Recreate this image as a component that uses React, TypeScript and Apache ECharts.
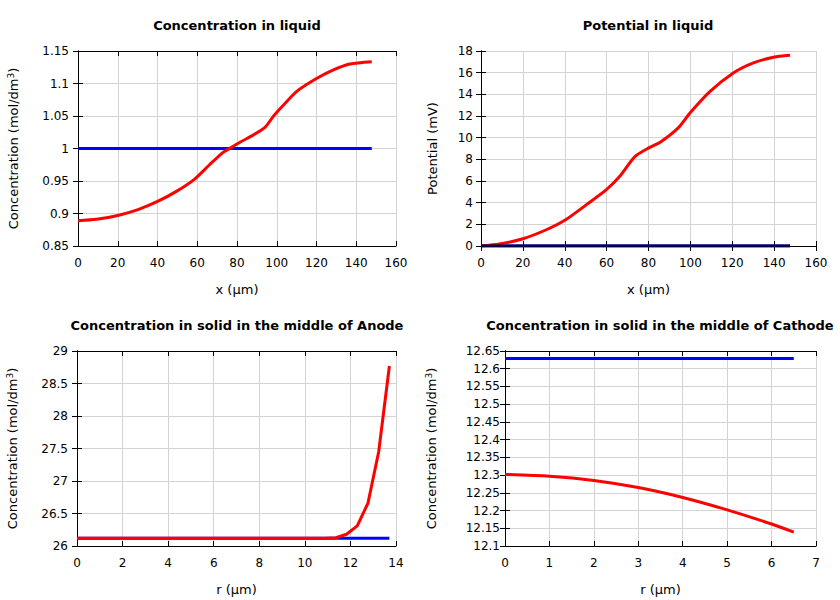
import React, { useEffect, useRef } from "react";
import * as echarts from "echarts";

// Concentration in liquid
const liqX = [0, 9.3, 20, 30.2, 40.3, 49.5, 58.7, 66.2, 73, 76.3, 81.7, 88.3, 94.2, 98.4, 103.4, 110.1, 120.2, 128.5, 136.9, 147.8];
const liqConc = [0.889, 0.891, 0.897, 0.906, 0.919, 0.934, 0.953, 0.975, 0.994, 1.0, 1.010, 1.021, 1.033, 1.050, 1.067, 1.088, 1.108, 1.121, 1.130, 1.1335];
const liqInitX = [0, 147.8];
const liqConcInit = [1, 1];

// Potential in liquid
const potX = [0, 8.8, 20, 31.2, 40, 50.4, 59.9, 66.3, 73.5, 80.6, 85.4, 94.2, 99.8, 109.4, 120.5, 130.1, 139.7, 147.6];
const potVal = [0, 0.18, 0.67, 1.5, 2.37, 3.82, 5.2, 6.43, 8.25, 9.1, 9.55, 10.9, 12.27, 14.27, 15.97, 16.9, 17.42, 17.6];
const potInitX = [0, 147.6];
const potInit = [0, 0];

// Anode solid
const anR = [0, 2, 4, 6, 8, 10.42, 10.89, 11.36, 11.83, 12.3, 12.77, 13.24, 13.71];
const anConc = [26.12, 26.12, 26.12, 26.12, 26.12, 26.12, 26.121, 26.127, 26.18, 26.31, 26.66, 27.45, 28.77];
const anInitR = [0, 13.71];
const anInit = [26.12, 26.12];

// Cathode solid
const caR = [0, 1, 2, 3, 4, 5, 6, 6.5];
const caConc = [12.302, 12.297, 12.285, 12.265, 12.237, 12.202, 12.162, 12.139];
const caInitR = [0, 6.5];
const caInit = [12.629, 12.629];

const zip = (xs: number[], ys: number[]) => xs.map((x, i) => [x, ys[i]]);

const FONT = "DejaVu Sans";

export default function App() {
  const ref = useRef<HTMLDivElement>(null);
  useEffect(() => {
    const chart = echarts.init(ref.current!, null, { renderer: "svg" });
    const grids = [
      { left: 78, top: 51, width: 318, height: 195 },
      { left: 481, top: 51, width: 335, height: 195 },
      { left: 77, top: 351, width: 319, height: 195 },
      { left: 505, top: 351, width: 311, height: 195 },
    ];
    const xs = [
      { min: 0, max: 160, interval: 20, name: "x (µm)" },
      { min: 0, max: 160, interval: 20, name: "x (µm)" },
      { min: 0, max: 14, interval: 2, name: "r (µm)" },
      { min: 0, max: 7, interval: 1, name: "r (µm)" },
    ];
    const concName = "Concentration (mol/dm{sup|3})";
    const ys = [
      { min: 0.85, max: 1.15, interval: 0.05, name: concName, gap: 57, margin: 9, dec: 2 },
      { min: 0, max: 18, interval: 2, name: "Potential (mV)", gap: 42, margin: 8, dec: 0 },
      { min: 26, max: 29, interval: 0.5, name: concName, gap: 57, margin: 9, dec: 1 },
      { min: 12.1, max: 12.65, interval: 0.05, name: concName, gap: 66, margin: 5, dec: 2 },
    ];
    const titles = [
      { text: "Concentration in liquid", left: 237, top: 19 },
      { text: "Potential in liquid", left: 648, top: 19 },
      { text: "Concentration in solid in the middle of Anode", left: 237, top: 319 },
      { text: "Concentration in solid in the middle of Cathode", left: 660, top: 319 },
    ];
    const fmt = (dec: number) => (v: number) => String(parseFloat(v.toFixed(dec + 1)));
    const tick = { show: true, inside: true, length: 5, lineStyle: { color: "#000" } };
    const axLine = { show: true, lineStyle: { color: "#000", width: 1 } };
    const split = { show: true, lineStyle: { color: "#d3d3d3", width: 1 } };
    const xAxis: any[] = [];
    const yAxis: any[] = [];
    xs.forEach((a, i) => {
      xAxis.push({
        type: "value", gridIndex: i, min: a.min, max: a.max, interval: a.interval,
        name: a.name, nameLocation: "middle", nameGap: 37,
        nameTextStyle: { fontFamily: FONT, fontSize: 13, color: "#000" },
        axisLine: axLine, axisTick: tick, splitLine: split,
        axisLabel: { fontFamily: FONT, fontSize: 12, color: "#000", margin: 11, formatter: fmt(2) },
      });
    });
    xs.forEach((a, i) => {
      xAxis.push({
        type: "value", gridIndex: i, min: a.min, max: a.max, interval: a.interval, position: "top",
        axisLine: axLine, axisTick: tick, axisLabel: { show: false }, splitLine: { show: false },
      });
    });
    ys.forEach((a, i) => {
      yAxis.push({
        type: "value", gridIndex: i, min: a.min, max: a.max, interval: a.interval,
        name: a.name, nameLocation: "middle", nameGap: a.gap,
        nameTextStyle: {
          fontFamily: FONT, fontSize: 13, color: "#000",
          rich: { sup: { fontFamily: FONT, fontSize: 9, color: "#000", verticalAlign: "top", padding: [0, 0, 6, 0] } },
        },
        axisLine: axLine, axisTick: tick, splitLine: split,
        axisLabel: { fontFamily: FONT, fontSize: 12, color: "#000", margin: a.margin, formatter: fmt(a.dec) },
      });
    });
    ys.forEach((a, i) => {
      yAxis.push({
        type: "value", gridIndex: i, min: a.min, max: a.max, interval: a.interval, position: "right",
        axisLine: axLine, axisTick: tick, axisLabel: { show: false }, splitLine: { show: false },
      });
    });
    const line = (i: number, data: number[][], color: string, smooth: number | boolean = false) => ({
      type: "line", xAxisIndex: i, yAxisIndex: i, data, showSymbol: false, symbol: "none",
      smooth,
      lineStyle: { color, width: 3 }, itemStyle: { color }, silent: true,
    });
    chart.setOption({
      animation: false,
      backgroundColor: "#fff",
      title: titles.map((t) => ({
        text: t.text, left: t.left, top: t.top, textAlign: "center", padding: 0,
        textStyle: { fontFamily: FONT, fontSize: 13, fontWeight: "bold", color: "#000" },
      })),
      grid: grids.map((g) => ({ ...g, show: false })),
      xAxis,
      yAxis,
      series: [
        line(0, zip(liqInitX, liqConcInit), "#0000ff"),
        line(0, zip(liqX, liqConc), "#ff0000", 0.25),
        line(1, zip(potInitX, potInit), "#0000ff"),
        line(1, zip(potX, potVal), "#ff0000", 0.25),
        line(1, zip(potInitX, potInit), "#00004a"),
        line(2, zip(anInitR, anInit), "#0000ff"),
        line(2, zip(anR, anConc), "#ff0000"),
        line(3, zip(caInitR, caInit), "#0000ff"),
        line(3, zip(caR, caConc), "#ff0000", 0.25),
      ],
    });
    return () => chart.dispose();
  }, []);
  return (
    <div
      ref={ref}
      style={{ position: "absolute", left: 0, top: 0, width: 840, height: 600, background: "#fff" }}
    />
  );
}
